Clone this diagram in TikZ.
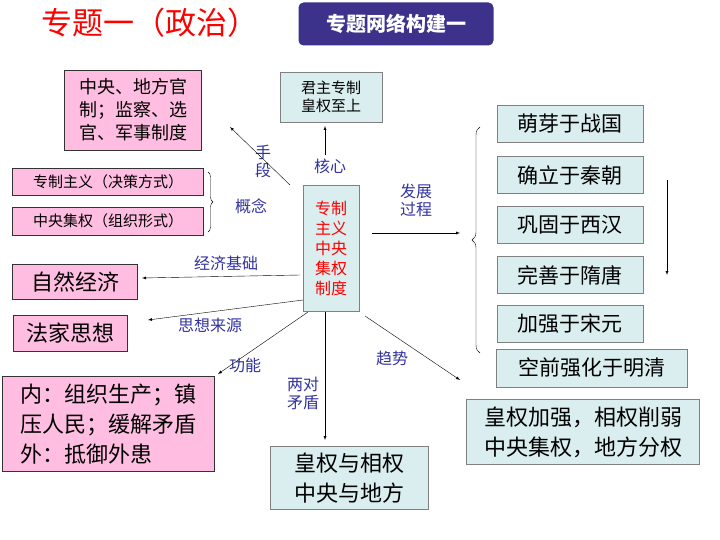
\documentclass[tikz,border=0pt]{standalone}
\usepackage{fontspec}
\setmainfont{Noto Sans CJK SC}
\usetikzlibrary{decorations.pathreplacing}
\definecolor{pinkf}{RGB}{255,190,225}
\definecolor{tealf}{RGB}{218,238,240}
\definecolor{lbl}{RGB}{50,50,160}
\definecolor{hdr}{RGB}{60,50,140}
\tikzset{
  pinkbox/.style={draw=black!80,fill=pinkf,inner sep=3pt,align=left,anchor=north west},
  tealbox/.style={draw=black!50,fill=tealf,inner sep=3pt,align=left,anchor=north west},
  lab/.style={text=lbl,font=\fontsize{16}{18}\selectfont,align=center},
  arr/.style={-latex,thin}
}
\begin{document}
\begin{tikzpicture}[x=1pt,y=-1pt]
\useasboundingbox (0,0) rectangle (720,540);

\node[text=red,font=\fontsize{31}{34}\selectfont] (title) at (150,23) {专题一（政治）};
\node[fill=hdr,rounded corners=5pt,text=white,font=\bfseries\fontsize{20}{24}\selectfont,
  minimum width=195pt,minimum height=43pt] (hdr) at (396,24) {专题网络构建一};

\node[tealbox,text=red,font=\fontsize{16}{20}\selectfont,align=center,minimum width=56pt,
  minimum height=126pt,anchor=center] (core) at (331,248) {专制\\主义\\中央\\集权\\制度};

\node[tealbox,font=\fontsize{15}{18}\selectfont,minimum width=102pt,minimum height=50pt,anchor=center] (king) at (331,97) {君主专制\\皇权至上};
\node[pinkbox,font=\fontsize{18}{23}\selectfont,minimum width=137pt,minimum height=80pt,anchor=center] (offi) at (133,110) {中央、地方官\\制；监察、选\\官、军事制度};
\node[pinkbox,font=\fontsize{15}{16}\selectfont,minimum width=191pt,minimum height=27pt,anchor=center] (juece) at (108,182) {专制主义（决策方式）};
\node[pinkbox,font=\fontsize{15}{16}\selectfont,minimum width=191pt,minimum height=28pt,anchor=center] (zuzhi) at (108,221) {中央集权（组织形式）};
\node[pinkbox,font=\fontsize{22}{26}\selectfont,minimum width=125pt,minimum height=35pt,anchor=center] (ziran) at (75,282) {自然经济};
\node[pinkbox,font=\fontsize{22}{26}\selectfont,minimum width=114pt,minimum height=36pt,anchor=center] (fajia) at (70,333) {法家思想};
\node[pinkbox,font=\fontsize{22}{30}\selectfont,minimum width=212pt,minimum height=95pt,anchor=center] (func) at (108,424) {内：组织生产；镇\\压人民；缓解矛盾\\外：抵御外患};

\foreach \n/\t/\y in {a/萌芽于战国/124,b/确立于秦朝/175,c/巩固于西汉/225,d/完善于隋唐/275,e/加强于宋元/324}
  \node[tealbox,font=\fontsize{21}{25}\selectfont,minimum width=146pt,minimum height=37pt,anchor=center] (\n) at (570,\y) {\t};
\node[tealbox,font=\fontsize{21}{25}\selectfont,minimum width=191pt,minimum height=38pt,anchor=center] (f) at (592,368) {空前强化于明清};
\node[tealbox,font=\fontsize{22}{30}\selectfont,minimum width=233pt,minimum height=65pt,anchor=center] (trend) at (583,432) {皇权加强，相权削弱\\中央集权，地方分权};
\node[tealbox,font=\fontsize{22}{30}\selectfont,minimum width=158pt,minimum height=63pt,anchor=center] (pair) at (349,478) {皇权与相权\\中央与地方};

% labels
\node[lab] (l1) at (263,161) {手\\段};
\node[lab] (l2) at (330,166) {核心};
\node[lab] (l3) at (251,206) {概念};
\node[lab] (l4) at (416,200) {发展\\过程};
\node[lab] (l5) at (226,263) {经济基础};
\node[lab] (l6) at (210,325) {思想来源};
\node[lab] (l7) at (245,365) {功能};
\node[lab] (l8) at (303,393) {两对\\矛盾};
\node[lab] (l9) at (392,358) {趋势};

% arrows
\draw[arr] (290,185) -- (230,127);
\draw[arr] (325,155) -- (325,126);
\draw[arr] (372,233) -- (460,233);
\draw[arr] (300,275) -- (142,278);
\draw[arr] (303,300) -- (148,320);
\draw[arr] (308,312) -- (218,374);
\draw[arr] (325,312) -- (325,440);
\draw[arr] (365,316) -- (460,380);
\draw[arr] (667,180) -- (667,275);

% braces
\draw[decorate,decoration={brace,amplitude=5pt}] (208,172) -- (208,232);
\draw[decorate,decoration={brace,amplitude=8pt}] (480,353) -- (480,127);
\end{tikzpicture}
\end{document}
